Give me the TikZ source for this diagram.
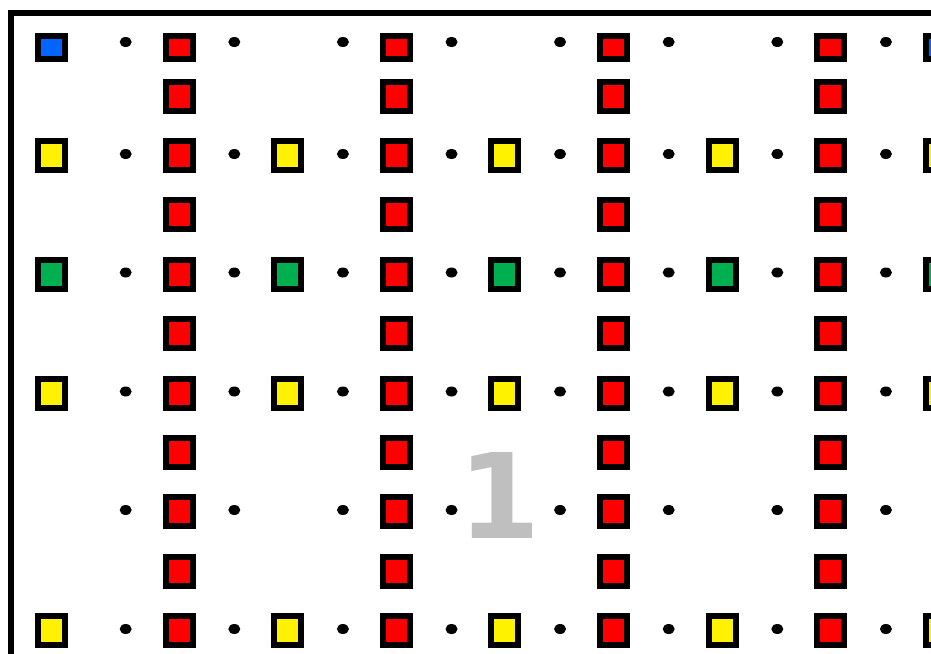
\documentclass[tikz,border=0pt]{standalone}
\usepackage{fontspec}
\usepackage{tikz}
\usetikzlibrary{shapes.geometric}
\newfontfamily\numfont{DejaVu Sans}
\definecolor{tgreen}{HTML}{00B050}
\definecolor{tblue}{HTML}{0066FF}
\definecolor{numgray}{HTML}{BFBFBF}
\begin{document}
\begin{tikzpicture}[
        x=1pt, y=-1pt,
        tile/.style={draw, line width=6pt, minimum width=27pt, minimum height=29pt, inner sep=0pt},
        low/.style={tile, minimum height=23pt},
        dot/.style={fill, ellipse, minimum width=12pt, minimum height=10pt, inner sep=0pt},
        frame/.style={line width=6pt, line join=miter}
    ]
        \useasboundingbox (0,0) rectangle (931,653);
        \clip (0,0) rectangle (931,653);
        \draw[frame] (11,670) -- (11,13) -- (960,13);

        \foreach \c/\x in {1/179,3/396.2,5/613.4,7/830.6} {
            \node[low, fill=red] (a\c) at (\x,47.5) {};
            \foreach \r/\y in {b/96.1,c/155.5,d/214.9,e/274.3,f/333.7,g/393.1,h/452.5,i/511.9,j/571.3,k/630.7}
                \node[tile, fill=red] (\r\c) at (\x,\y) {};
        }
        \foreach \c/\x in {0/51.5,2/287.6,4/504.8,6/722,8/939.2} {
            \foreach \r/\y/\col in {c/155.5/yellow,e/274.3/tgreen,g/393.1/yellow,k/630.7/yellow}
                \node[tile, fill=\col] (\r\c) at (\x,\y) {};
        }
        \node[low, fill=tblue] (a0) at (51.5,47.5) {};
        \node[low, fill=tblue] (a8) at (939.2,47.5) {};

        \foreach \r/\y in {a/42,c/154,e/272.5,g/391.5,i/510,k/629}
            \foreach \d in {0,...,7}
                \node[dot] (\r d\d) at ({125.7+108.6*\d},\y) {};

        \node[font=\numfont\bfseries\fontsize{118}{118}\selectfont, text=numgray, anchor=base, inner sep=0pt] (num) at (500,538) {1};
    \end{tikzpicture}
\end{document}
